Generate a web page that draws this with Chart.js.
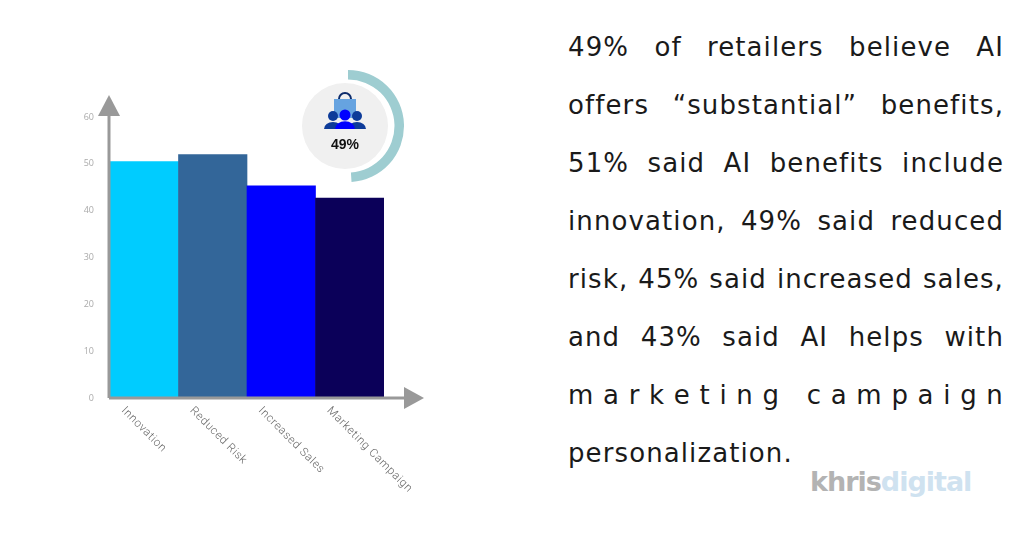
<!DOCTYPE html>
<html>
<head>
<meta charset="utf-8">
<script src="https://cdn.jsdelivr.net/npm/chart.js@4"></script>
<style>
  body { margin: 0; width: 1025px; height: 537px; background: #fff; position: relative; overflow: hidden; font-family: "Open Sans", sans-serif; }
  #barChart { position: absolute; left: 0; top: 0; }
  #badge { position: absolute; left: 292px; top: 70px; }
  #blurb { position: absolute; left: 568px; top: 18px; width: 436px; font-family: "DejaVu Sans", sans-serif; font-size: 26px; color: #1a1a1a; letter-spacing: 1.1px; }
  .ln { height: 58px; line-height: 58px; text-align: justify; text-align-last: justify; white-space: nowrap; }
  .ln.spread { display: flex; justify-content: space-between; }
  .ln.last { text-align-last: left; }
  #logo { position: absolute; left: 810px; top: 466px; font-family: "DejaVu Sans", sans-serif; font-weight: bold; font-size: 27px; letter-spacing: -1px; }
</style>
</head>
<body>
<canvas id="barChart" width="460" height="537"></canvas>
<canvas id="badge" width="112" height="112"></canvas>
<div id="blurb">
  <div class="ln">49% of retailers believe AI</div>
  <div class="ln">offers “substantial” benefits,</div>
  <div class="ln">51% said AI benefits include</div>
  <div class="ln">innovation, 49% said reduced</div>
  <div class="ln">risk, 45% said increased sales,</div>
  <div class="ln">and 43% said AI helps with</div>
  <div class="ln spread" id="spread"></div>
  <div class="ln last">personalization.</div>
</div>
<div id="logo"><span style="color:#b3b3b3">khris</span><span style="color:#cfe2f0">digital</span></div>
<script>
// chart data
const categories = ["Innovation", "Reduced Risk", "Increased Sales", "Marketing Campaign"];
const values = [50.5, 52, 45.3, 42.7];
const barColors = ["#00ccff", "#336699", "#0000ff", "#0b0059"];
const yTicks = [0, 10, 20, 30, 40, 50, 60];
const badgeValue = [49, 51];

// spread-out line of text
"marketing campaign".split("").forEach(ch => {
    const s = document.createElement("span");
    s.textContent = ch === " " ? "\u00a0" : ch;
    document.getElementById("spread").appendChild(s);
});

// axes with arrows and slanted x labels
const axisArrows = {
    id: "axisArrows",
    afterDraw(chart) {
        const ctx = chart.ctx;
        const a = chart.chartArea;
        const x0 = a.left - 1, y0 = a.bottom;
        ctx.save();
        ctx.strokeStyle = "#999";
        ctx.fillStyle = "#999";
        ctx.lineWidth = 3;
        ctx.beginPath();
        ctx.moveTo(x0, y0);
        ctx.lineTo(x0, 108);
        ctx.moveTo(x0, y0);
        ctx.lineTo(410, y0);
        ctx.stroke();
        ctx.beginPath();
        ctx.moveTo(x0, 95); ctx.lineTo(x0 - 11, 116); ctx.lineTo(x0 + 11, 116); ctx.fill();
        ctx.beginPath();
        ctx.moveTo(424, y0); ctx.lineTo(404, y0 - 11); ctx.lineTo(404, y0 + 11); ctx.fill();

        const xs = chart.scales.x;
        const half = (xs.getPixelForValue(1) - xs.getPixelForValue(0)) / 2;
        ctx.font = "300 11.5px Roboto, sans-serif";
        ctx.fillStyle = "#666";
        ctx.textBaseline = "middle";
        ctx.letterSpacing = "0.6px";
        categories.forEach((c, i) => {
            ctx.save();
            ctx.translate(xs.getPixelForValue(i) - half + 13, y0 + 11);
            ctx.rotate(Math.PI / 4);
            ctx.fillText(c, 0, 0);
            ctx.restore();
        });
        ctx.restore();
    }
};

new Chart(document.getElementById("barChart"), {
    type: "bar",
    data: {
        labels: categories,
        datasets: [{ data: values, backgroundColor: barColors, categoryPercentage: 1, barPercentage: 1 }]
    },
    options: {
        responsive: false,
        animation: false,
        layout: { padding: { top: 117, right: 76 } },
        plugins: { legend: { display: false }, tooltip: { enabled: false } },
        scales: {
            x: {
                grid: { display: false },
                border: { display: false },
                ticks: { display: false },
                afterFit(s) { s.height = 139; }
            },
            y: {
                min: 0, max: 60,
                afterBuildTicks(s) { s.ticks = yTicks.map(v => ({ value: v })); },
                grid: { display: false },
                border: { display: false },
                ticks: { color: "#aaa", font: { size: 9, family: "Open Sans" }, padding: 8 },
                afterFit(s) { s.width = 110; }
            }
        }
    },
    plugins: [axisArrows]
});

// badge: gray disc, icon, percentage ring
const badgeInner = {
    id: "badgeInner",
    beforeDatasetsDraw(chart) {
        const ctx = chart.ctx;
        const cx = 53, cy = 56;
        ctx.save();
        ctx.fillStyle = "#f0f0f0";
        ctx.beginPath(); ctx.arc(cx, cy, 43, 0, Math.PI * 2); ctx.fill();
        // bag
        ctx.fillStyle = "#66a3e0";
        ctx.fillRect(cx - 11, cy - 27, 22, 19);
        ctx.strokeStyle = "#0d2b6b"; ctx.lineWidth = 2;
        ctx.beginPath(); ctx.arc(cx, cy - 27, 6, Math.PI, 0); ctx.stroke();
        // people
        const person = (px, col, s) => {
            ctx.fillStyle = col;
            ctx.beginPath(); ctx.arc(px, cy - 10 * s, 5 * s, 0, Math.PI * 2); ctx.fill();
            ctx.beginPath(); ctx.ellipse(px, cy + 3, 9 * s, 7 * s, 0, Math.PI, 0); ctx.fill();
        };
        person(cx - 12, "#0d3b99", 1);
        person(cx + 12, "#0d3b99", 1);
        person(cx, "#0000ff", 1.1);
        ctx.fillStyle = "#111";
        ctx.font = "bold 14px Arial, sans-serif";
        ctx.textAlign = "center";
        ctx.fillText(badgeValue[0] + "%", cx, cy + 23);
        ctx.restore();
    }
};

new Chart(document.getElementById("badge"), {
    type: "doughnut",
    data: { datasets: [{ data: badgeValue, backgroundColor: ["#9ecdd1", "rgba(0,0,0,0)"], borderWidth: 0 }] },
    options: {
        responsive: false,
        animation: false,
        cutout: "83%",
        plugins: { legend: { display: false }, tooltip: { enabled: false } }
    },
    plugins: [badgeInner]
});
</script>
</body>
</html>
